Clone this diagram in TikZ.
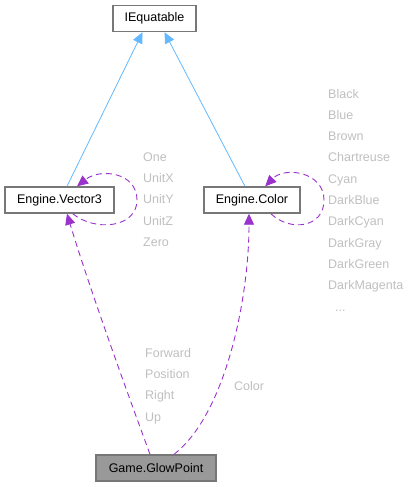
\documentclass[tikz,border=0pt]{standalone}
\usepackage{fontspec}
\setmainfont{Liberation Sans}
\usetikzlibrary{arrows.meta}
\definecolor{inhblue}{HTML}{63B8FF}
\definecolor{usepurple}{HTML}{9A32CD}
\definecolor{boxgray}{HTML}{777777}
\definecolor{lblgray}{HTML}{BFBFBF}
\begin{document}
\begin{tikzpicture}[
        x=1pt, y=-1pt,
        cls/.style={rectangle, draw=boxgray, line width=1.4pt, fill=white, minimum height=26pt, inner xsep=4pt, font=\fontsize{12.5}{14}\selectfont},
        current/.style={cls, fill=black!40},
        inherit/.style={draw=inhblue, line width=0.8pt, -{Triangle[length=11pt, width=10pt]}},
        uses/.style={draw=usepurple, line width=0.9pt, dashed, dash pattern=on 6pt off 4pt, -{Triangle[length=11pt, width=10pt]}},
        lbl/.style={text=lblgray, align=left, anchor=west, inner sep=0pt, font=\fontsize{12.5}{21.3}\selectfont},
    ]
        \useasboundingbox (0,0) rectangle (416,487);

        % Classes
        \node[cls, minimum width=83pt] (iequ) at (154.5,18.5) {IEquatable};
        \node[cls, minimum width=109pt] (vec) at (59.5,200) {Engine.Vector3};
        \node[cls, minimum width=96pt] (col) at (252,200) {Engine.Color};
        \node[current, minimum width=120pt] (glow) at (156,468) {Game.GlowPoint};

        % Inheritance
        \draw[inherit] ([xshift=7.5pt]vec.north) -- ([xshift=-12pt]iequ.south);
        \draw[inherit] ([xshift=-7pt]col.north) -- ([xshift=10pt]iequ.south);

        % Self references
        \draw[uses] (vec.-46) .. controls (95,232) and (137,228) .. (137,200)
            .. controls (137,172) and (100,168) .. (vec.38);
        \draw[uses] (col.-36) .. controls (290,232) and (324,228) .. (324,200)
            .. controls (324,172) and (285,166) .. (col.46);

        % Members used by GlowPoint
        \draw[uses] ([xshift=-6pt]glow.north) .. controls (130,400) and (90,290) .. ([xshift=7.5pt]vec.south);
        \draw[uses] ([xshift=18pt]glow.north) .. controls (225,415) and (249,300) .. ([xshift=-3pt]col.south);

        % Labels
        \node[lbl] (veclbl) at (143,199.5) {One\\UnitX\\UnitY\\UnitZ\\Zero};
        \node[lbl] (collbl) at (328,200) {Black\\Blue\\Brown\\Chartreuse\\Cyan\\DarkBlue\\DarkCyan\\DarkGray\\DarkGreen\\DarkMagenta\\\hspace{7pt}...};
        \node[lbl] (glowlbl) at (145,386) {Forward\\Position\\Right\\Up};
        \node[lbl] (colorlbl) at (234,386) {Color};

    \end{tikzpicture}
\end{document}
